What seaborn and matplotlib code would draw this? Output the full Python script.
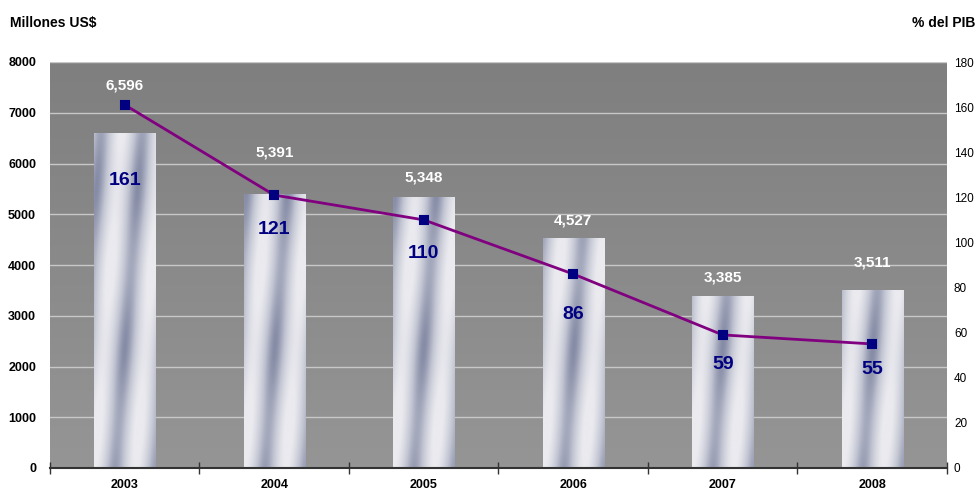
import numpy as np
import pandas as pd
import seaborn as sns
import matplotlib.pyplot as plt
from matplotlib.colors import LinearSegmentedColormap

# deuda externa: millones US$ (barras) y % del PIB (linea)
years = ["2003", "2004", "2005", "2006", "2007", "2008"]
deuda_musd = [6596, 5391, 5348, 4527, 3385, 3511]
deuda_pct_pib = [161, 121, 110, 86, 59, 55]

# desplazamiento manual de las etiquetas (pixeles), como en el original
bar_label_dy = [48, 42, 19, 18, 19, 27]
pct_label_dy = [-76, -34, -34, -40, -30, -26]

sns.set_theme(style="white")
plt.rcParams["font.family"] = ["Liberation Sans", "DejaVu Sans"]
plt.rcParams["text.color"] = "black"
plt.rcParams["xtick.color"] = "black"
plt.rcParams["ytick.color"] = "black"

df = pd.DataFrame({"year": years, "musd": deuda_musd, "pct": deuda_pct_pib})

fig = plt.figure(figsize=(9.78, 4.93), dpi=100)
ax = fig.add_axes([50 / 978, 25 / 493, 897 / 978, 406 / 493])

# fondo gris con ligero degradado
bg = np.linspace(0, 1, 100).reshape(-1, 1)
bg_cmap = LinearSegmentedColormap.from_list("bg", ["#959595", "#7f7f7f"])
ax.imshow(bg, cmap=bg_cmap, origin="lower", aspect="auto", extent=[0, 1, 0, 1],
          transform=ax.transAxes, zorder=0)

sns.barplot(data=df, x="year", y="musd", ax=ax, width=0.41, color="#d0d0d8",
            saturation=1, zorder=2)

# textura metalica de las barras
metal = LinearSegmentedColormap.from_list("metal", ["#868ca6", "#c2c5d2", "#eaeaef"])
px_per_unit = 406 / 8000
for patch in ax.patches:
    x0, w, h = patch.get_x(), patch.get_width(), patch.get_height()
    hp = int(max(h * px_per_unit, 2))
    wp = 61
    xx, yy = np.meshgrid(np.arange(wp), np.arange(hp))
    t = xx / wp - 0.08 * yy / wp
    tex = 0.55 + 0.45 * np.cos(2 * np.pi * 1.5 * t) + 0.08 * np.sin(2 * np.pi * yy / 160)
    tex = np.clip(tex, 0, 1) ** 0.7
    img = ax.imshow(tex, cmap=metal, origin="lower", aspect="auto",
                    extent=[x0, x0 + w, 0, h], zorder=3, interpolation="bilinear")
    img.set_clip_path(patch)
    patch.set_facecolor("none")
    patch.set_edgecolor("none")

for i, v in enumerate(deuda_musd):
    ax.annotate(f"{v:,}", (i, v), xytext=(0, bar_label_dy[i]), textcoords="offset pixels",
                ha="center", va="center", color="white", fontsize=11, fontweight="bold",
                zorder=6)

ax.set_xlim(-0.5, 5.5)
ax.set_ylim(0, 8000)
ax.set_yticks(range(0, 8001, 1000))
ax.yaxis.grid(True, color="#c8c8c8", linewidth=1, zorder=1)
ax.set_axisbelow(True)
ax.set_xlabel("")
ax.set_ylabel("")
for s in ["top", "left", "right"]:
    ax.spines[s].set_visible(False)
ax.spines["bottom"].set_color("#333333")
ax.spines["bottom"].set_linewidth(1.5)
ax.spines["bottom"].set_zorder(5)
ax.set_xticks(np.arange(-0.5, 6, 1))
ax.set_xticklabels([])
ax.set_xticks(range(6), minor=True)
ax.set_xticklabels(years, minor=True, fontsize=9, fontweight="bold")
ax.tick_params(axis="x", which="major", direction="inout", length=8, width=1,
               color="#333333", bottom=True)
ax.tick_params(axis="x", which="minor", length=0, pad=8)
ax.tick_params(axis="y", length=0, labelsize=9, pad=10)
for lab in ax.get_yticklabels():
    lab.set_fontweight("bold")

ax2 = ax.twinx()
sns.pointplot(data=df, x="year", y="pct", ax=ax2, color="#800080", markers="s",
              markersize=6, linewidth=2, zorder=4)
for ln in ax2.lines:
    ln.set_markerfacecolor("#000080")
    ln.set_markeredgecolor("#000080")
for i, v in enumerate(deuda_pct_pib):
    ax2.annotate(f"{v}", (i, v), xytext=(0, pct_label_dy[i]), textcoords="offset pixels",
                 ha="center", va="center", color="#000080", fontsize=14, fontweight="bold",
                 zorder=6)
ax2.set_ylim(0, 180)
ax2.set_yticks(range(0, 181, 20))
ax2.set_xlim(-0.5, 5.5)
ax2.set_ylabel("")
ax2.set_xlabel("")
ax2.grid(False)
for s in ax2.spines.values():
    s.set_visible(False)
ax2.tick_params(axis="y", length=0, labelsize=8.5, pad=5, labelcolor="black")

fig.text(10 / 978, 1 - 23 / 493, "Millones US$", ha="left", va="center",
         fontsize=10, fontweight="bold")
fig.text(975 / 978, 1 - 23 / 493, "% del PIB", ha="right", va="center",
         fontsize=10, fontweight="bold")

plt.savefig("out.png", dpi=100)
